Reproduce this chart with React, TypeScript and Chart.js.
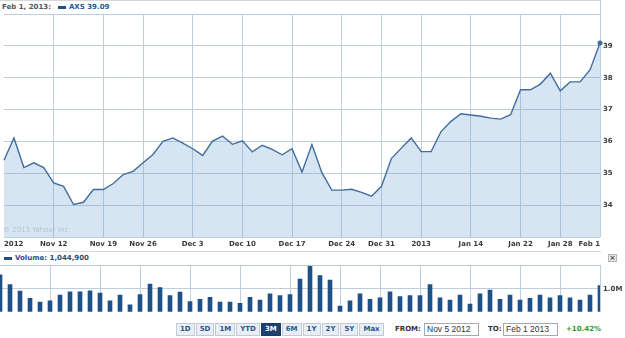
import React, { useEffect, useRef } from "react";
import { Chart, registerables } from "chart.js";

Chart.register(...registerables);

// ---------- DATA ----------
const dates = [
  "Nov 5", "Nov 6", "Nov 7", "Nov 8", "Nov 9",
  "Nov 12", "Nov 13", "Nov 14", "Nov 15", "Nov 16",
  "Nov 19", "Nov 20", "Nov 21", "Nov 23",
  "Nov 26", "Nov 27", "Nov 28", "Nov 29", "Nov 30",
  "Dec 3", "Dec 4", "Dec 5", "Dec 6", "Dec 7",
  "Dec 10", "Dec 11", "Dec 12", "Dec 13", "Dec 14",
  "Dec 17", "Dec 18", "Dec 19", "Dec 20", "Dec 21",
  "Dec 24", "Dec 26", "Dec 27", "Dec 28",
  "Dec 31", "Jan 2", "Jan 3", "Jan 4",
  "Jan 7", "Jan 8", "Jan 9", "Jan 10", "Jan 11",
  "Jan 14", "Jan 15", "Jan 16", "Jan 17", "Jan 18",
  "Jan 22", "Jan 23", "Jan 24", "Jan 25",
  "Jan 28", "Jan 29", "Jan 30", "Jan 31", "Feb 1",
];

const prices = [
  35.41, 36.11, 35.18, 35.33, 35.18,
  34.70, 34.59, 34.02, 34.09, 34.49,
  34.49, 34.68, 34.96, 35.06,
  35.33, 35.59, 36.00, 36.11, 35.95,
  35.77, 35.56, 36.01, 36.17, 35.91,
  36.02, 35.67, 35.88, 35.75, 35.58,
  35.77, 35.04, 35.90, 35.02, 34.47,
  34.47, 34.50, 34.40, 34.28,
  34.59, 35.46, 35.79, 36.11,
  35.68, 35.68, 36.31, 36.63, 36.87,
  36.83, 36.79, 36.73, 36.70, 36.84,
  37.62, 37.62, 37.80, 38.14,
  37.59, 37.87, 37.87, 38.25, 39.09,
];

// volume in millions of shares
const volumes = [
  1.60, 1.18, 0.90, 0.58, 0.42,
  0.48, 0.72, 0.87, 0.87, 0.91,
  0.81, 0.48, 0.72, 0.30,
  0.75, 1.20, 1.05, 0.70, 0.85,
  0.44, 0.54, 0.63, 0.42, 0.42,
  0.37, 0.63, 0.51, 0.78, 0.70,
  0.75, 1.42, 2.03, 1.57, 1.38,
  0.25, 0.48, 0.78, 0.54,
  0.61, 0.87, 0.66, 0.70,
  0.70, 1.18, 0.61, 0.51, 0.72,
  0.33, 0.78, 0.94, 0.54, 0.72,
  0.51, 0.58, 0.72, 0.61,
  0.70, 0.61, 0.51, 0.72, 1.14,
];

const axisTickDates = ["Nov 5", "Nov 12", "Nov 19", "Nov 26", "Dec 3", "Dec 10", "Dec 17", "Dec 24", "Dec 31", "Jan 7", "Jan 14", "Jan 22", "Jan 28", "Feb 1"];
const axisTickLabels = ["2012", "Nov 12", "Nov 19", "Nov 26", "Dec 3", "Dec 10", "Dec 17", "Dec 24", "Dec 31", "2013", "Jan 14", "Jan 22", "Jan 28", "Feb 1"];
const priceTicks = [34, 35, 36, 37, 38, 39];
const volumeTicks = [1];
const volumeTickLabels = ["1.0M"];
const rangeButtons = ["1D", "5D", "1M", "YTD", "3M", "6M", "1Y", "2Y", "5Y", "Max"];
const selectedRange = "3M";
const symbol = "AXS";
const lastDateText = "Feb 1, 2013:";
const lastPriceText = "39.09";
const volumeText = "1,044,900";
const fromText = "Nov 5 2012";
const toText = "Feb 1 2013";
const changeText = "+10.42%";

// ---------- STYLE ----------
const LINE = "#3f6d9e";
const FILL = "rgba(120,170,210,0.3)";
const GRID = "#bccddc";
const BAR = "#1f5189";
const AXIS_TEXT = "#3a3a3a";
const FONT = "'DejaVu Sans', Verdana, sans-serif";

const gridIdx = axisTickDates.map((d) => dates.indexOf(d));
const labelFor = (i: number) => {
  const k = gridIdx.indexOf(i);
  return k >= 0 ? axisTickLabels[k] : "";
};

const framePlugin = {
  id: "frame",
  afterDraw(chart: any) {
    const { ctx, chartArea } = chart;
    ctx.save();
    ctx.strokeStyle = GRID;
    ctx.lineWidth = 1;
    ctx.beginPath();
    ctx.moveTo(chartArea.left, Math.round(chartArea.top) + 0.5);
    ctx.lineTo(Math.round(chartArea.right) + 0.5, Math.round(chartArea.top) + 0.5);
    ctx.lineTo(Math.round(chartArea.right) + 0.5, chartArea.bottom);
    ctx.stroke();
    ctx.restore();
  },
};

export default function App() {
  const priceRef = useRef<HTMLCanvasElement | null>(null);
  const volRef = useRef<HTMLCanvasElement | null>(null);

  useEffect(() => {
    document.body.style.margin = "0";
    document.body.style.background = "#fff";
    Chart.defaults.font.family = FONT;

    const tickFont = { family: FONT, size: 7, weight: "bold" as const };

    const price = new Chart(priceRef.current!, {
      type: "line",
      data: {
        labels: dates,
        datasets: [
          {
            data: prices,
            borderColor: LINE,
            backgroundColor: FILL,
            fill: "start",
            borderWidth: 1.4,
            tension: 0,
            pointRadius: (c: any) => (c.dataIndex === prices.length - 1 ? 2.5 : 0),
            pointBackgroundColor: LINE,
            pointBorderWidth: 0,
          },
        ],
      },
      options: {
        animation: false,
        responsive: false,
        maintainAspectRatio: false,
        events: [],
        layout: { padding: { top: 14, left: 0, right: 0, bottom: 0 } },
        plugins: { legend: { display: false }, tooltip: { enabled: false } },
        scales: {
          x: {
            type: "category",
            offset: false,
            grid: {
              offset: false,
              drawTicks: false,
              color: (c: any) => (c.index > 0 && gridIdx.includes(c.index) ? GRID : "rgba(0,0,0,0)"),
            },
            border: { display: false },
            ticks: {
              autoSkip: false,
              maxRotation: 0,
              minRotation: 0,
              align: "inner",
              padding: 3,
              color: AXIS_TEXT,
              font: tickFont,
              callback: (_v: any, i: number) => labelFor(i),
            },
            afterFit: (s: any) => {
              s.height = 13;
            },
          },
          y: {
            position: "right",
            min: 33,
            max: 40,
            grid: { color: GRID, drawTicks: false },
            border: { display: false },
            ticks: {
              stepSize: 1,
              padding: 3,
              color: AXIS_TEXT,
              font: tickFont,
              callback: (v: any) => (priceTicks.includes(Number(v)) ? String(v) : ""),
            },
            afterFit: (s: any) => {
              s.width = 25;
            },
          },
        },
      },
    } as any);

    const vol = new Chart(volRef.current!, {
      type: "bar",
      data: {
        labels: dates,
        datasets: [
          {
            data: volumes,
            backgroundColor: BAR,
            barThickness: 4,
            borderWidth: 0,
          },
        ],
      },
      options: {
        animation: false,
        responsive: false,
        maintainAspectRatio: false,
        events: [],
        layout: { padding: { top: 13, left: 0, right: 0, bottom: 0 } },
        plugins: { legend: { display: false }, tooltip: { enabled: false } },
        scales: {
          x: {
            type: "category",
            offset: false,
            grid: {
              offset: false,
              drawTicks: false,
              color: (c: any) => (c.index > 0 && gridIdx.includes(c.index) ? GRID : "rgba(0,0,0,0)"),
            },
            border: { display: false },
            ticks: { display: false, autoSkip: false },
            afterFit: (s: any) => {
              s.height = 0;
            },
          },
          y: {
            position: "right",
            min: 0,
            max: 2.03,
            grid: { color: GRID, drawTicks: false },
            border: { display: false },
            afterBuildTicks: (s: any) => {
              s.ticks = volumeTicks.map((v) => ({ value: v }));
            },
            ticks: {
              padding: 3,
              color: AXIS_TEXT,
              font: tickFont,
              callback: (v: any) => {
                const k = volumeTicks.indexOf(Number(v));
                return k >= 0 ? volumeTickLabels[k] : "";
              },
            },
            afterFit: (s: any) => {
              s.width = 25;
            },
          },
        },
      },
      plugins: [framePlugin],
    } as any);

    return () => {
      price.destroy();
      vol.destroy();
    };
  }, []);

  const bold: React.CSSProperties = { fontFamily: FONT, fontWeight: "bold", fontSize: 7 };

  return (
    <div style={{ position: "absolute", left: 0, top: 0, width: 625, height: 338, background: "#fff", overflow: "hidden" }}>
      {/* top legend box */}
      <div
        style={{
          position: "absolute", left: 0, top: 0, width: 601, height: 15, boxSizing: "border-box",
          borderTop: "1px solid #d6d6d6", borderRight: `1px solid ${GRID}`,
        }}
      />
      <div style={{ ...bold, position: "absolute", left: 2, top: 2, height: 11, lineHeight: "11px", color: "#555", whiteSpace: "nowrap", display: "flex", alignItems: "center" }}>
        <span>{lastDateText}</span>
        <span style={{ display: "inline-block", width: 8, height: 3, background: BAR, marginLeft: 7, marginRight: 3 }} />
        <span style={{ color: "#1f5a96" }}>{symbol} {lastPriceText}</span>
      </div>

      <canvas ref={priceRef} width={625} height={250} style={{ position: "absolute", left: 0, top: 0, width: 625, height: 250 }} />

      <div style={{ position: "absolute", left: 3, top: 226, fontFamily: FONT, fontSize: 7, color: "#b4c5d6", whiteSpace: "nowrap" }}>
        © 2013 Yahoo! Inc.
      </div>

      {/* volume legend box */}
      <div
        style={{
          position: "absolute", left: 0, top: 251, width: 601, height: 14, boxSizing: "border-box",
          borderTop: "1px solid #d6d6d6",
        }}
      />
      <div style={{ ...bold, position: "absolute", left: 4, top: 253, height: 11, lineHeight: "11px", color: "#1f4f85", whiteSpace: "nowrap", display: "flex", alignItems: "center" }}>
        <span style={{ display: "inline-block", width: 8, height: 3, background: BAR, marginRight: 3 }} />
        <span>Volume: {volumeText}</span>
      </div>
      <div
        style={{
          position: "absolute", left: 608, top: 254, width: 9, height: 8, boxSizing: "border-box",
          border: "1px solid #b5b5b5", background: "#e4e4e4", color: "#444", fontFamily: FONT,
          fontSize: 7, lineHeight: "6px", textAlign: "center", fontWeight: "bold",
        }}
      >
        ×
      </div>

      <canvas ref={volRef} width={625} height={67} style={{ position: "absolute", left: 0, top: 252, width: 625, height: 67 }} />

      {/* range buttons */}
      <div style={{ position: "absolute", left: 176, top: 323, height: 13, display: "flex", gap: 1 }}>
        {rangeButtons.map((b) => {
          const sel = b === selectedRange;
          return (
            <div
              key={b}
              style={{
                ...bold,
                height: 13, boxSizing: "border-box", padding: "0 3px", minWidth: 17,
                lineHeight: "11px", textAlign: "center",
                border: `1px solid ${sel ? "#1a3a60" : "#bfcbd8"}`,
                background: sel ? "#1d4170" : "#e8eef4",
                color: sel ? "#fff" : "#2a5689",
              }}
            >
              {b}
            </div>
          );
        })}
      </div>

      <div style={{ ...bold, position: "absolute", left: 395, top: 323, height: 13, lineHeight: "13px", color: "#333" }}>FROM:</div>
      <div
        style={{
          position: "absolute", left: 424, top: 323, width: 55, height: 13, boxSizing: "border-box",
          border: "1px solid #a9a9a9", fontFamily: "'Liberation Sans', Arial, sans-serif", fontSize: 8.5,
          lineHeight: "11px", paddingLeft: 2, color: "#333", whiteSpace: "nowrap",
        }}
      >
        {fromText}
      </div>
      <div style={{ ...bold, position: "absolute", left: 488, top: 323, height: 13, lineHeight: "13px", color: "#333" }}>TO:</div>
      <div
        style={{
          position: "absolute", left: 503, top: 323, width: 55, height: 13, boxSizing: "border-box",
          border: "1px solid #a9a9a9", fontFamily: "'Liberation Sans', Arial, sans-serif", fontSize: 8.5,
          lineHeight: "11px", paddingLeft: 2, color: "#333", whiteSpace: "nowrap",
        }}
      >
        {toText}
      </div>
      <div style={{ ...bold, position: "absolute", left: 566, top: 323, height: 13, lineHeight: "13px", color: "#2f9a2f" }}>{changeText}</div>
    </div>
  );
}
